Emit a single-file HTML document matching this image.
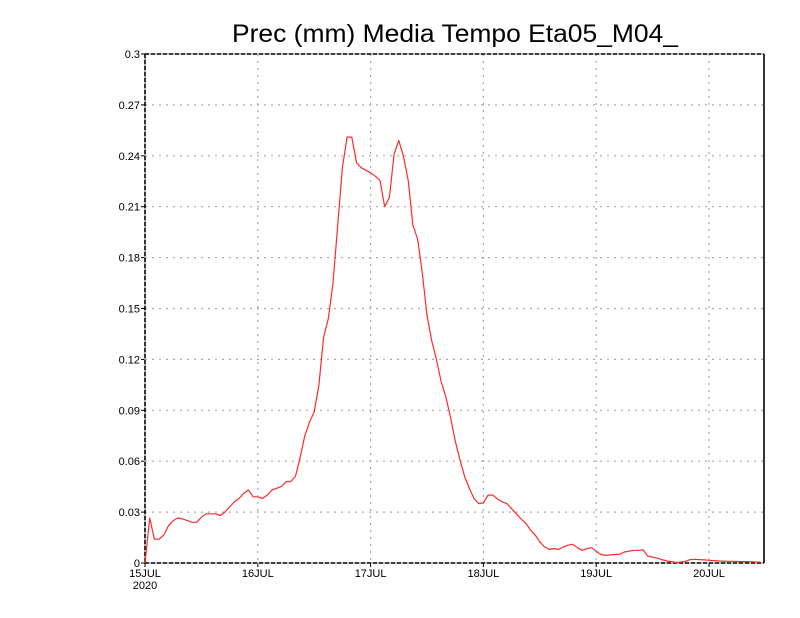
<!DOCTYPE html>
<html><head><meta charset="utf-8"><style>
html,body{margin:0;padding:0;background:#fff;}
svg{display:block;font-family:"Liberation Sans",sans-serif;}
</style></head><body>
<svg id="chart" width="800" height="618" viewBox="0 0 800 618" xmlns="http://www.w3.org/2000/svg">
<rect width="800" height="618" fill="#fff"/>
<text x="455" y="42" font-size="25" text-anchor="middle" textLength="446" lengthAdjust="spacingAndGlyphs" fill="#000">Prec (mm) Media Tempo Eta05_M04_</text>
<g id="grid"></g>
<g id="axes"></g>
<g id="series"></g>
</svg>
<script>
const yTicks = [0,0.03,0.06,0.09,0.12,0.15,0.18,0.21,0.24,0.27,0.3];
const yTickLabels = ["0","0.03","0.06","0.09","0.12","0.15","0.18","0.21","0.24","0.27","0.3"];
const xTickHours = [0,24,48,72,96,120];
const xTickLabels = ["15JUL","16JUL","17JUL","18JUL","19JUL","20JUL"];
const yearLabel = "2020";
const precValues = [0,0.0265,0.014,0.014,0.0165,0.022,0.025,0.0265,0.026,0.025,0.024,0.024,
0.027,0.029,0.029,0.029,0.028,0.030,0.033,0.036,0.038,0.041,0.043,0.039,
0.039,0.038,0.040,0.043,0.044,0.045,0.048,0.048,0.051,0.062,0.075,0.083,
0.089,0.105,0.133,0.144,0.165,0.199,0.233,0.251,0.251,0.236,0.233,0.2315,
0.230,0.228,0.2255,0.210,0.2155,0.241,0.249,0.2395,0.2255,0.199,0.191,0.171,
0.146,0.131,0.120,0.107,0.098,0.086,0.072,0.061,0.051,0.044,0.038,0.035,
0.0355,0.040,0.040,0.0377,0.036,0.035,0.032,0.029,0.026,0.0235,0.0195,0.0165,
0.0125,0.0095,0.008,0.0085,0.008,0.0095,0.0105,0.011,0.009,0.0075,0.0085,0.009,
0.007,0.005,0.0045,0.0048,0.005,0.0052,0.0065,0.007,0.0075,0.0075,0.0077,0.004,
0.0035,0.0028,0.002,0.0012,0.0008,0.0003,0.0005,0.001,0.002,0.0022,0.002,0.0018,
0.0016,0.0014,0.0012,0.0011,0.001,0.001,0.0009,0.0008,0.0008,0.0007,0.0006,0.0005];
const yMin = 0, yMax = 0.3;
const L=145, R=764, T=54, B=563;
const pxPerHour = (709-145)/120;
function xScale(h){ return L + h*pxPerHour; }
function yScale(v){ return B - (v-yMin)/(yMax-yMin)*(B-T); }
const NS="http://www.w3.org/2000/svg";
function mk(tag, parent, attrs){ const e=document.createElementNS(NS,tag); for(const k in attrs) e.setAttribute(k,attrs[k]); parent.appendChild(e); return e; }
const grid=document.getElementById('grid'), axes=document.getElementById('axes'), series=document.getElementById('series');
yTicks.forEach((v,i)=>{
  const y=yScale(v);
  if(i>0 && i<yTicks.length-1){
    const g=mk('line',grid,{x1:L,x2:R,y1:y,y2:y,stroke:'#aaa','stroke-width':1.2,'stroke-dasharray':'2,5'});
    
    
  }
  const t=mk('line',axes,{x1:L-4,x2:L,y1:y,y2:y,stroke:'#000','stroke-width':1});
  
  
  const lb=mk('text',axes,{x:L-5,y:y+4,'font-size':11,'text-anchor':'end',fill:'#000'});
  lb.textContent=yTickLabels[i];
  
  
});
xTickHours.forEach((h,i)=>{
  const x=xScale(h);
  if(i>0){
    const g=mk('line',grid,{x1:x,x2:x,y1:T,y2:B,stroke:'#aaa','stroke-width':1.2,'stroke-dasharray':'2,5'});
    
    
  }
  const t=mk('line',axes,{x1:x,x2:x,y1:B,y2:B+4,stroke:'#000','stroke-width':1});
  
  
  const lb=mk('text',axes,{x:x,y:B+14,'font-size':11,'text-anchor':'middle',fill:'#000'});
  lb.textContent=xTickLabels[i];
  
  
});
const yl=mk('text',axes,{x:L,y:B+26,'font-size':11,'text-anchor':'middle',fill:'#000'});
yl.textContent=yearLabel;


// frame
[[L,T,L,B],[L,T,R,T],[L,B,R,B]].forEach(c=>{
  mk('line',axes,{x1:c[0],y1:c[1],x2:c[2],y2:c[3],stroke:'#000','stroke-width':1.6});
  const d=mk('line',axes,{x1:c[0],y1:c[1],x2:c[2],y2:c[3],stroke:'#fff','stroke-width':1,'stroke-dasharray':'2,4','stroke-dashoffset':'-4'});
  
  
});
const rl=mk('line',axes,{x1:R,y1:T,x2:R,y2:B,stroke:'#000','stroke-width':1.6});


const pts=precValues.map((v,i)=>xScale(i).toFixed(1)+','+yScale(v).toFixed(1)).join(' ');
const pl=mk('polyline',series,{points:pts,fill:'none',stroke:'#ff2b2b','stroke-width':1.2,'stroke-linejoin':'round'});


</script>
</body></html>
